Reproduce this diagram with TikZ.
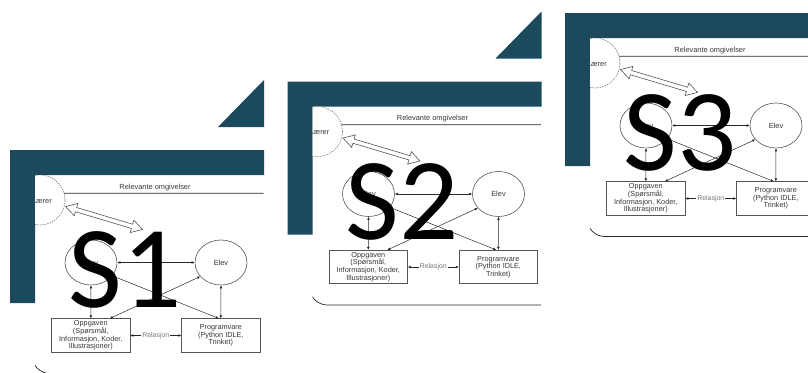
\documentclass[tikz,border=0pt]{standalone}
\usepackage{fontspec}
\setmainfont{Liberation Sans}
\newfontfamily\slidelabelfont{Carlito}
\usetikzlibrary{arrows.meta,shapes.geometric}

\definecolor{frameteal}{RGB}{28,74,92}
\definecolor{inktext}{RGB}{55,55,55}
\definecolor{edgegray}{RGB}{85,85,85}
\definecolor{softgray}{RGB}{120,120,120}

\tikzset{
  tealframe/.style={fill=frameteal, draw=none},
  bubble/.style={ellipse, draw=edgegray, line width=0.6pt, fill=white,
    minimum width=52pt, minimum height=45pt, inner sep=0pt,
    font=\fontsize{7.4}{8}\selectfont, text=inktext},
  actor/.style={circle, draw=softgray, line width=0.6pt, fill=white,
    dash pattern=on 1.4pt off 1.1pt, minimum size=50pt, inner sep=0pt},
  infobox/.style={rectangle, draw=edgegray, line width=0.6pt, fill=white,
    minimum width=78.3pt, minimum height=33.5pt, inner sep=0pt, align=center,
    font=\fontsize{7.3}{7.7}\selectfont, text=inktext},
  smalltext/.style={inner sep=0pt, font=\fontsize{7.4}{8}\selectfont, text=inktext},
  link/.style={line width=0.5pt, draw=black!85,
    {Latex[length=3pt,width=2.6pt]}-{Latex[length=3pt,width=2.6pt]}},
  hollowarrow/.style={fill=white, draw=edgegray, line width=0.6pt, line join=miter},
  borderline/.style={draw=black!85, line width=0.7pt, rounded corners=18pt},
  biglabel/.style={font=\slidelabelfont\fontsize{117}{117}\selectfont,
    inner sep=0pt, text=black},
}

% One slide: teal half frame, the model diagram, and the slide label
\newcommand\slidepanel[3]{%
  \begin{scope}[shift={(#1,#2)}, name prefix=#3-]
    \fill[tealframe] (0,0) -- (254,0) -- (254,25) -- (25,25) -- (25,153) -- (0,153) -- cycle;
    \fill[tealframe] (208,-23) -- (254,-23) -- (254,-70) -- cycle;
    \begin{scope}
      \clip (25,25) rectangle (253.5,262);
      % surroundings
      \draw[borderline] (22,43.3) rectangle (300,223.5);
      \node[smalltext] (env) at (145,37.3) {Relevante omgivelser};
      \node[actor] (teacher) at (30,50) {};
      \node[smalltext, anchor=east] (teachertext) at (42,50.5) {Lærer};
      % exchange between teacher and the pair
      \begin{scope}[shift={(55.5,56.5)}, rotate=-16.6]
        \filldraw[hollowarrow] (0,0) -- (11,-6.5) -- (11,-2.2) -- (69.4,-2.2) -- (69.4,-6.5)
          -- (80.4,0) -- (69.4,6.5) -- (69.4,2.2) -- (11,2.2) -- (11,6.5) -- cycle;
      \end{scope}
      % pair, task and software
      \node[bubble] (peer) at (81,112.5) {Elev};
      \node[bubble] (pupil) at (211,112.5) {Elev};
      \node[infobox] (task) at (80.8,185.5) {Oppgaven\\(Spørsmål,\\Informasjon, Koder,\\Illustrasjoner)};
      \node[infobox] (tool) at (210.8,185.5) {Programvare\\(Python IDLE,\\Trinket)};
      \draw[link] (peer) -- (pupil);
      \draw[link] (peer.south) -- (task.north);
      \draw[link] (pupil.south) -- (tool.north);
      \draw[link] (peer.-32) -- ([xshift=-2pt]tool.north);
      \draw[link] (pupil.214) -- ([xshift=19pt]task.north);
      \draw[link] (task.east) -- node[fill=white, inner sep=1pt, text=softgray,
        font=\fontsize{6.9}{7}\selectfont] (rel) {Relasjon} (tool.west);
    \end{scope}
    \node[biglabel] (label) at (115,120) {#3};
  \end{scope}}

\begin{document}
\begin{tikzpicture}[x=1pt, y=-1pt]
  \useasboundingbox (0,0) rectangle (808,372);
  \clip (0,0) rectangle (808,372);
  \slidepanel{10}{150}{S1}
  \slidepanel{287.5}{81.5}{S2}
  \slidepanel{565}{13}{S3}
\end{tikzpicture}
\end{document}
